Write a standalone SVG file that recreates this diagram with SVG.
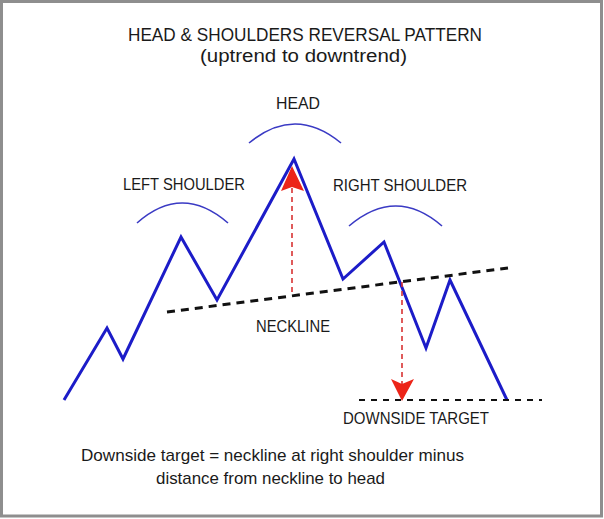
<svg xmlns="http://www.w3.org/2000/svg" width="604" height="519" viewBox="0 0 604 519">
<style>
text{font-family:"Liberation Sans",Arial,sans-serif;fill:#1a1a1a;text-anchor:middle}
.lbl{font-size:17px}
.price{fill:none;stroke:#1c1cc8;stroke-width:3;stroke-linejoin:miter}
.arc{fill:none;stroke:#3a3ac4;stroke-width:1.6}
.neck{stroke:#111;stroke-width:3;stroke-dasharray:8 6;fill:none}
.target{stroke:#111;stroke-width:2;stroke-dasharray:6 6;fill:none}
.measure{stroke:#d83232;stroke-width:1.6;stroke-dasharray:5 4;fill:none}
.tip{fill:#ec2418}
</style>
<rect x="1.5" y="1.5" width="600" height="514.5" fill="#fff" stroke="#8e8e8e" stroke-width="3"/>
<g id="title">
<text x="305" y="41" style="font-size:19px" textLength="354" lengthAdjust="spacingAndGlyphs">HEAD &amp; SHOULDERS REVERSAL PATTERN</text>
<text x="303.5" y="62" style="font-size:18px" textLength="207" lengthAdjust="spacingAndGlyphs">(uptrend to downtrend)</text>
</g>
<g id="connectors">
<polyline class="price" points="64,400 107,328 123,359 181,237 217,300 294,159 343,279 384,242 426,348 450,280 507,400"/>
<line class="neck" x1="167" y1="312" x2="508" y2="268"/>
<line class="target" x1="359" y1="400" x2="542" y2="400"/>
<line class="measure" x1="292" y1="292" x2="292" y2="188"/>
<polygon class="tip" points="292,166 304,191 292,187 281,191"/>
<line class="measure" x1="402" y1="282" x2="402" y2="384"/>
<polygon class="tip" points="402,401 414,379 402,384 391,379"/>
</g>
<g id="head">
<path class="arc" d="M249,143 Q295,105 341,143"/>
<text class="lbl" x="298" y="109" textLength="44" lengthAdjust="spacingAndGlyphs">HEAD</text>
</g>
<g id="left-shoulder">
<path class="arc" d="M137,223 Q182,183 228,223"/>
<text class="lbl" x="184" y="190" textLength="122" lengthAdjust="spacingAndGlyphs">LEFT SHOULDER</text>
</g>
<g id="right-shoulder">
<path class="arc" d="M349,226 Q396,186 442,226"/>
<text class="lbl" x="400" y="191" textLength="134" lengthAdjust="spacingAndGlyphs">RIGHT SHOULDER</text>
</g>
<g id="neckline">
<text class="lbl" x="293" y="332" textLength="74" lengthAdjust="spacingAndGlyphs">NECKLINE</text>
</g>
<g id="downside-target">
<text class="lbl" x="416" y="424" textLength="146" lengthAdjust="spacingAndGlyphs">DOWNSIDE TARGET</text>
</g>
<g id="note">
<text class="lbl" x="272.5" y="461" textLength="383" lengthAdjust="spacingAndGlyphs">Downside target = neckline at right shoulder minus</text>
<text class="lbl" x="270.5" y="484" textLength="229" lengthAdjust="spacingAndGlyphs">distance from neckline to head</text>
</g>
</svg>
